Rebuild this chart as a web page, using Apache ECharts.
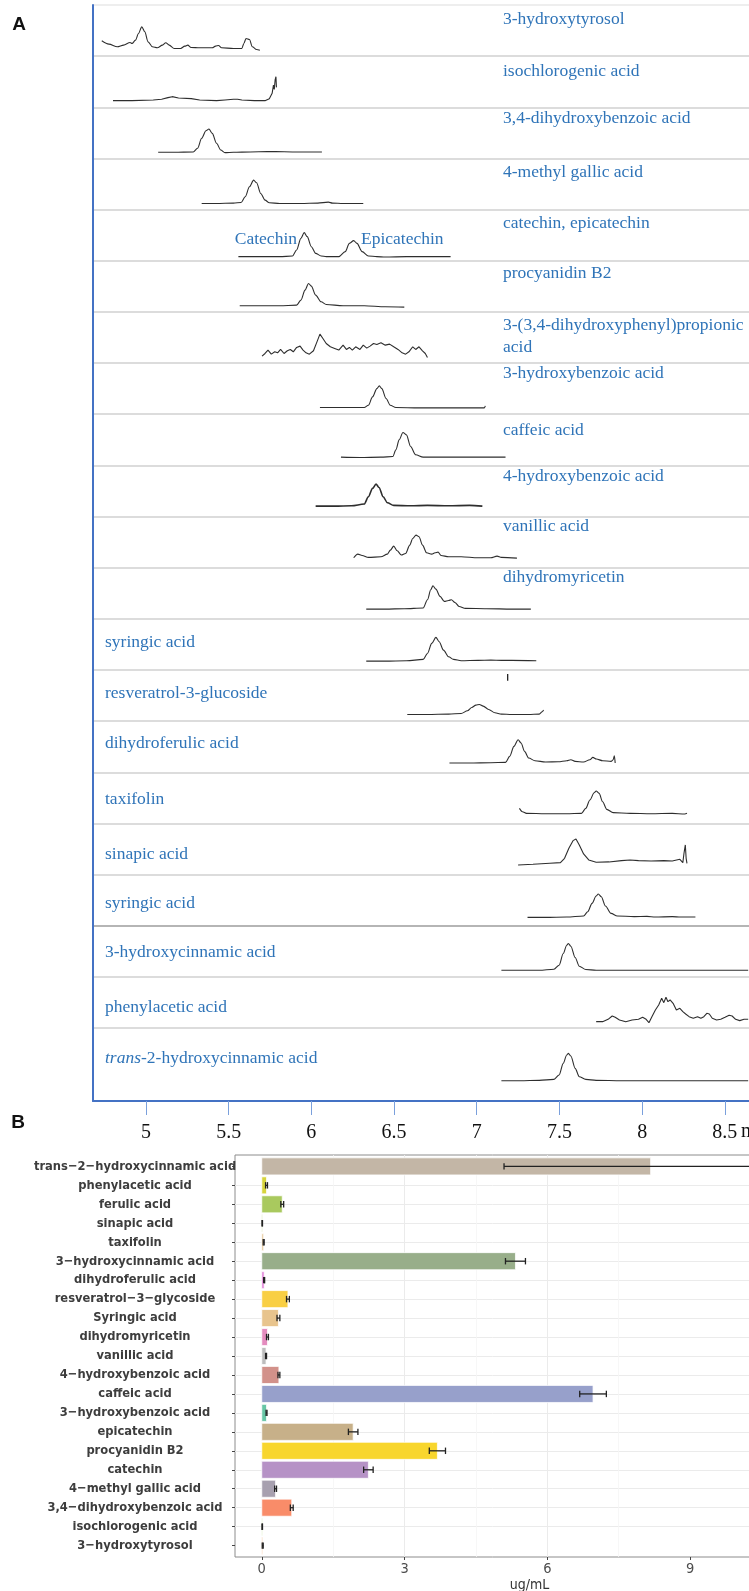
<!DOCTYPE html>
<html><head><meta charset="utf-8">
<script src="https://cdn.jsdelivr.net/npm/echarts@6/dist/echarts.min.js"></script>
<style>html,body{margin:0;padding:0;background:#fff}#c{width:749px;height:1591px}</style>
</head><body><div id="c"></div>
<script>
// ---------------- Panel A data (retention time in min, relative intensity in row units) ----------------
const rowLabelsA = ['3-hydroxytyrosol','isochlorogenic acid','3,4-dihydroxybenzoic acid','4-methyl gallic acid','catechin, epicatechin','procyanidin B2','3-(3,4-dihydroxyphenyl)propionic\nacid','3-hydroxybenzoic acid','caffeic acid','4-hydroxybenzoic acid','vanillic acid','dihydromyricetin','syringic acid','resveratrol-3-glucoside','dihydroferulic acid','taxifolin','sinapic acid','syringic acid','3-hydroxycinnamic acid','phenylacetic acid','{i|trans}-2-hydroxycinnamic acid'];
const timeTicksA = [5,5.5,6,6.5,7,7.5,8,8.5];
const baseA = [0.85,0.87,0.88,0.88,0.92,0.88,0.78,0.87,0.84,0.79,0.80,0.81,0.82,0.87,0.82,0.81,0.76,0.83,0.87,0.83,1.03];

const trace01 = [[4.733,0.15],[4.776,0.085],[4.827,0.033],[4.865,0.065],[4.904,0.117],[4.916,0.098],[4.937,0.163],[4.955,0.293],[4.975,0.423],[4.993,0.326],[5.013,0.13],[5.039,0.033],[5.069,0.013],[5.100,0.065],[5.120,0.111],[5.141,0.065],[5.171,0],[5.210,0],[5.235,0.046],[5.253,0.065],[5.273,0.02],[5.325,0.013],[5.401,0.013],[5.421,0.046],[5.439,0.059],[5.457,0.013],[5.529,0],[5.580,0],[5.592,0.098],[5.605,0.195],[5.626,0.176],[5.643,0.033],[5.669,-0.02],[5.689,-0.033]];
const trace02 = [[4.801,0],[4.916,0],[5.044,0.013],[5.095,0.026],[5.133,0.059],[5.159,0.078],[5.197,0.052],[5.274,0.039],[5.325,0.013],[5.427,0],[5.478,0.013],[5.529,0.026],[5.554,0.026],[5.580,0.013],[5.656,0],[5.720,0],[5.746,0.039],[5.763,0.143],[5.771,0.306],[5.776,0.221],[5.781,0.404],[5.786,0.469],[5.789,0.26]];
const trace03 = [[5.074,0],[5.171,0],[5.286,0.007],[5.312,0.078],[5.337,0.274],[5.363,0.423],[5.381,0.456],[5.401,0.371],[5.427,0.176],[5.452,0.046],[5.478,-0.007],[5.529,0],[5.631,0.007],[5.733,0.013],[5.784,0.013],[5.886,0.007],[5.988,0.007],[6.064,0.007]];
const trace04 = [[5.337,0],[5.427,0],[5.529,0.007],[5.575,0.02],[5.600,0.13],[5.626,0.326],[5.651,0.456],[5.669,0.404],[5.694,0.195],[5.720,0.065],[5.746,0.013],[5.809,0],[5.937,0],[6.039,0.007],[6.103,0.026],[6.128,0.007],[6.192,0],[6.314,0]];
const trace05 = [[5.559,0],[5.682,0],[5.809,0],[5.886,0.013],[5.911,0.13],[5.937,0.358],[5.957,0.469],[5.975,0.391],[6.000,0.195],[6.026,0.065],[6.059,0.013],[6.090,0],[6.166,0],[6.205,0.098],[6.230,0.26],[6.256,0.313],[6.276,0.26],[6.307,0.098],[6.345,0.013],[6.396,0],[6.447,-0.007],[6.575,0],[6.702,0],[6.842,0]];
const trace06 = [[5.567,0],[5.682,0],[5.809,0],[5.911,0.013],[5.937,0.111],[5.962,0.306],[5.983,0.436],[6.000,0.384],[6.026,0.208],[6.059,0.078],[6.090,0.026],[6.192,0],[6.320,0],[6.447,-0.02],[6.562,-0.026]];
const trace07 = [[5.702,-0.085],[5.720,-0.033],[5.738,0.033],[5.758,-0.046],[5.779,0],[5.796,-0.02],[5.814,0.046],[5.835,-0.033],[5.855,0.02],[5.873,0.046],[5.891,0],[5.911,0.085],[5.932,0.111],[5.950,0.033],[5.968,-0.02],[5.988,-0.046],[6.013,0.02],[6.034,0.195],[6.052,0.345],[6.070,0.26],[6.090,0.163],[6.115,0.098],[6.141,0.065],[6.166,0.033],[6.192,0.13],[6.212,0.046],[6.230,0.085],[6.248,0.033],[6.268,0.098],[6.294,0.046],[6.314,0.13],[6.335,0.072],[6.355,0.111],[6.376,0.163],[6.396,0.143],[6.421,0.176],[6.447,0.13],[6.473,0.15],[6.498,0.098],[6.524,0.046],[6.549,-0.02],[6.570,-0.046],[6.590,0],[6.613,0.098],[6.631,0.046],[6.651,0.098],[6.672,0.02],[6.689,-0.033],[6.702,-0.111]];
const trace08 = [[6.052,0],[6.192,0],[6.320,0],[6.345,0.046],[6.370,0.208],[6.396,0.371],[6.411,0.423],[6.426,0.371],[6.452,0.176],[6.477,0.046],[6.511,0],[6.651,-0.007],[6.830,-0.007],[7.046,-0.007],[7.052,0.033]];
const trace09 = [[6.179,0],[6.294,-0.007],[6.421,0],[6.493,0.013],[6.511,0.143],[6.531,0.339],[6.554,0.482],[6.575,0.436],[6.600,0.208],[6.631,0.046],[6.676,0],[6.830,0],[7.008,0],[7.174,0]];
const trace10 = [[6.026,-0.007],[6.141,-0.007],[6.243,0],[6.320,0.033],[6.345,0.176],[6.370,0.339],[6.391,0.423],[6.409,0.358],[6.434,0.176],[6.460,0.059],[6.498,0.007],[6.600,0],[6.702,0.007],[6.830,0],[6.957,0.007],[7.034,-0.007]];
const trace11 = [[6.256,-0.007],[6.281,0.065],[6.307,0.039],[6.345,0],[6.421,0.013],[6.460,0.065],[6.478,0.143],[6.498,0.221],[6.519,0.13],[6.544,0.046],[6.570,0.078],[6.595,0.241],[6.613,0.371],[6.633,0.436],[6.651,0.404],[6.672,0.241],[6.697,0.091],[6.728,0.065],[6.748,0.091],[6.766,0.104],[6.784,0.039],[6.830,0.013],[6.906,0.013],[7.008,-0.007],[7.085,-0.007],[7.123,0.026],[7.149,0],[7.243,-0.013]];
const trace12 = [[6.332,0],[6.447,0],[6.562,0.007],[6.676,0.02],[6.702,0.182],[6.722,0.378],[6.735,0.456],[6.753,0.391],[6.778,0.248],[6.804,0.15],[6.830,0.169],[6.847,0.182],[6.868,0.13],[6.893,0.052],[6.932,0.013],[7.059,0.007],[7.212,0],[7.327,0]];
const trace13 = [[6.332,-0.007],[6.447,-0.007],[6.575,0],[6.676,0.026],[6.702,0.143],[6.728,0.339],[6.753,0.456],[6.773,0.371],[6.799,0.208],[6.830,0.078],[6.860,0.026],[6.906,0],[7.008,0.007],[7.085,0.013],[7.149,0.007],[7.212,0.007],[7.360,0]];
const trace14 = [[6.580,0],[6.702,0],[6.830,0.007],[6.906,0.02],[6.944,0.072],[6.970,0.137],[6.995,0.182],[7.016,0.195],[7.039,0.163],[7.072,0.098],[7.110,0.033],[7.149,0.007],[7.212,0],[7.314,0],[7.378,0.007],[7.396,0.052],[7.404,0.085]];
const trace15 = [[6.835,0],[6.957,0],[7.085,0.007],[7.174,0.013],[7.199,0.13],[7.225,0.326],[7.250,0.456],[7.268,0.391],[7.289,0.228],[7.314,0.098],[7.352,0.046],[7.416,0.02],[7.493,0.026],[7.544,0.046],[7.569,0.065],[7.595,0.033],[7.646,0.02],[7.684,0.065],[7.702,0.111],[7.723,0.078],[7.761,0.046],[7.812,0.033],[7.825,0.065],[7.832,0.143],[7.837,0]];
const trace16 = [[7.258,0.104],[7.276,0.039],[7.301,0.007],[7.416,0],[7.544,0],[7.633,0.007],[7.659,0.104],[7.684,0.267],[7.710,0.41],[7.722,0.443],[7.740,0.397],[7.761,0.234],[7.786,0.085],[7.825,0.02],[7.927,0.007],[8.054,0],[8.182,0.007],[8.258,-0.007],[8.271,0.007]];
const trace17 = [[7.250,-0.052],[7.340,-0.039],[7.442,-0.02],[7.506,-0.007],[7.531,0.078],[7.557,0.274],[7.582,0.423],[7.600,0.456],[7.620,0.339],[7.646,0.163],[7.677,0.046],[7.722,0],[7.799,0.007],[7.875,0.033],[7.927,0.046],[7.978,0.033],[8.054,0.026],[8.131,0.033],[8.182,0.026],[8.228,0.059],[8.246,-0.007],[8.253,0.176],[8.261,0.339],[8.266,0.078],[8.271,-0.02]];
const trace18 = [[7.307,-0.007],[7.416,-0.007],[7.544,0],[7.646,0.02],[7.671,0.104],[7.697,0.267],[7.722,0.41],[7.735,0.449],[7.753,0.397],[7.778,0.215],[7.812,0.072],[7.850,0.02],[7.952,0.007],[8.029,0.013],[8.080,0],[8.182,0.007],[8.233,0],[8.322,0]];
const trace19 = [[7.149,0],[7.263,0],[7.378,0],[7.467,0.02],[7.498,0.098],[7.523,0.326],[7.544,0.489],[7.554,0.521],[7.569,0.469],[7.595,0.248],[7.620,0.078],[7.659,0.013],[7.722,0],[7.875,0],[7.978,0],[8.156,0],[8.386,0],[8.641,0]];
const trace20 = [[7.722,-0.046],[7.761,-0.046],[7.794,0],[7.819,0.065],[7.837,0.039],[7.863,-0.013],[7.901,-0.046],[7.939,-0.013],[7.978,0],[8.003,0.039],[8.024,0],[8.041,-0.065],[8.059,0.052],[8.080,0.182],[8.100,0.28],[8.118,0.41],[8.131,0.326],[8.144,0.43],[8.156,0.345],[8.169,0.378],[8.187,0.313],[8.207,0.182],[8.228,0.215],[8.246,0.15],[8.263,0.104],[8.284,0.052],[8.309,0.02],[8.335,0.052],[8.355,0.02],[8.373,0.052],[8.391,0.117],[8.406,0.104],[8.424,0.02],[8.450,-0.013],[8.475,0],[8.501,0.039],[8.526,0.078],[8.544,0.065],[8.565,0],[8.590,-0.026],[8.616,0],[8.641,0]];
const trace21 = [[7.149,0],[7.263,0],[7.378,0.007],[7.467,0.026],[7.498,0.111],[7.523,0.339],[7.544,0.502],[7.554,0.534],[7.569,0.482],[7.595,0.241],[7.620,0.078],[7.659,0.026],[7.722,0.007],[7.875,0],[8.156,0],[8.386,0],[8.641,0]];
const artifactRow13 = [[7.187,0.79],[7.187,0.66]];

// ---------------- Panel B data (ug/mL) ----------------
const compoundsB = ['trans−2−hydroxycinnamic acid','phenylacetic acid','ferulic acid','sinapic acid','taxifolin','3−hydroxycinnamic acid','dihydroferulic acid','resveratrol−3−glycoside','Syringic acid','dihydromyricetin','vanillic acid','4−hydroxybenzoic acid','caffeic acid','3−hydroxybenzoic acid','epicatechin','procyanidin B2','catechin','4−methyl gallic acid','3,4−dihydroxybenzoic acid','isochlorogenic acid','3−hydroxytyrosol'];
const concB = [8.17,0.10,0.43,0.01,0.04,5.33,0.05,0.55,0.35,0.12,0.09,0.36,6.96,0.10,1.92,3.69,2.24,0.29,0.63,0.01,0.02];
const sdB = [3.08,0.02,0.03,0.005,0.01,0.21,0.01,0.03,0.03,0.02,0.01,0.02,0.28,0.01,0.10,0.17,0.10,0.02,0.03,0.005,0.01];
const ticksB = [0,3,6,9];

// ---------------- styles ----------------
const paletteB = ['#c3b6a6','#d7d43c','#a9c95e','#b9d77c','#e6c99b','#98ae8a','#e07fd6','#f9cf43','#e8c48d','#e48bbe','#bdbdbd','#d2918a','#97a0cb','#67c6a5','#c7b089','#f8d62d','#b692c6','#a7a0af','#f98c69','#bfe08c','#f5b98b'];
const serif = "'Liberation Serif','Times New Roman',serif";
const narrow = "'Liberation Sans Narrow','Arial Narrow','DejaVu Sans Condensed',sans-serif";
const blueText = '#2f74b8';
const blueLine = '#4472c4';

const tracesA = [trace01,trace02,trace03,trace04,trace05,trace06,trace07,trace08,trace09,trace10,trace11,trace12,trace13,trace14,trace15,trace16,trace17,trace18,trace19,trace20,trace21];
const jagged = {1:true,6:true,16:true,19:true};

const sepColors = [];
for (let i = 0; i < 24; i++) {
  sepColors.push(i === 0 ? '#eeeeee' : (i === 18 ? '#b5b5b5' : (i >= 21 ? 'rgba(0,0,0,0)' : '#dcdcdc')));
}

const series = [];
tracesA.forEach((tr, k) => {
  series.push({
    type: 'line', xAxisIndex: 0, yAxisIndex: 0, silent: true,
    data: tr.map(p => [p[0], k + baseA[k] - p[1]]),
    showSymbol: false, symbol: 'none',
    smooth: jagged[k] ? false : 0.3, smoothMonotone: 'x',
    lineStyle: { color: '#2e2e2e', width: k === 9 ? 1.6 : 1.1 },
    z: 3
  });
});
series.push({
  type: 'line', xAxisIndex: 0, yAxisIndex: 0, silent: true, symbol: 'none',
  data: artifactRow13.map(p => [p[0], 13 + baseA[13] - p[1]]),
  lineStyle: { color: '#222', width: 1.3 }
});

// Panel B bars
series.push({
  type: 'custom', xAxisIndex: 1, yAxisIndex: 1, silent: true,
  data: concB.map((v, i) => [v, i]),
  renderItem: function (params, api) {
    const v = api.value(0), i = api.value(1);
    const a = api.coord([0, i - 0.45]);
    const b = api.coord([v, i + 0.45]);
    return {
      type: 'rect',
      shape: { x: a[0], y: Math.min(a[1], b[1]), width: Math.max(b[0] - a[0], 0.8), height: Math.abs(b[1] - a[1]) },
      style: { fill: paletteB[i], stroke: 'rgba(255,255,255,0.75)', lineWidth: 1 }
    };
  },
  z: 3
});
// Panel B error bars
series.push({
  type: 'custom', xAxisIndex: 1, yAxisIndex: 1, silent: true,
  data: concB.map((v, i) => [v, i, sdB[i]]),
  renderItem: function (params, api) {
    const v = api.value(0), i = api.value(1), e = api.value(2);
    const l = api.coord([v - e, i]);
    const r = api.coord([v + e, i]);
    const t = api.coord([v, i - 0.17]);
    const bt = api.coord([v, i + 0.17]);
    const st = { stroke: '#222222', lineWidth: 1.3 };
    return {
      type: 'group',
      children: [
        { type: 'line', shape: { x1: l[0], y1: l[1], x2: r[0], y2: r[1] }, style: st },
        { type: 'line', shape: { x1: l[0], y1: t[1], x2: l[0], y2: bt[1] }, style: st },
        { type: 'line', shape: { x1: r[0], y1: t[1], x2: r[0], y2: bt[1] }, style: st }
      ]
    };
  },
  z: 4
});

// Panel A text labels
const rightY = [19, 71, 118, 172, 223, 273, 336, 373, 430, 476, 526, 577];
const leftY = [642, 693, 743, 799, 854, 903, 952, 1007, 1058];
const graphics = [];
rowLabelsA.forEach((name, k) => {
  const isRight = k < 12;
  graphics.push({
    type: 'text', silent: true, z: 10,
    style: {
      text: name, x: isRight ? 503 : 105, y: isRight ? rightY[k] : leftY[k - 12],
      fill: blueText, fontFamily: serif, fontSize: 17.5, lineHeight: 22,
      align: 'left', verticalAlign: 'middle',
      rich: { i: { fontStyle: 'italic', fontFamily: serif, fontSize: 17.5, fill: blueText } }
    }
  });
});
graphics.push({ type: 'text', silent: true, style: { text: 'Catechin', x: 297, y: 239, fill: blueText, fontFamily: serif, fontSize: 17.5, align: 'right', verticalAlign: 'middle' } });
graphics.push({ type: 'text', silent: true, style: { text: 'Epicatechin', x: 361, y: 239, fill: blueText, fontFamily: serif, fontSize: 17.5, align: 'left', verticalAlign: 'middle' } });
graphics.push({ type: 'text', silent: true, style: { text: 'min', x: 741, y: 1132, fill: '#111', fontFamily: serif, fontSize: 20, align: 'left', verticalAlign: 'middle' } });
graphics.push({ type: 'text', silent: true, style: { text: 'A', x: 19, y: 25, fill: '#111', fontFamily: "'Liberation Sans',Arial,sans-serif", fontWeight: 'bold', fontSize: 19, align: 'center', verticalAlign: 'middle' } });
graphics.push({ type: 'text', silent: true, style: { text: 'B', x: 18, y: 1123, fill: '#111', fontFamily: "'Liberation Sans',Arial,sans-serif", fontWeight: 'bold', fontSize: 19, align: 'center', verticalAlign: 'middle' } });

const option = {
  animation: false,
  backgroundColor: '#ffffff',
  grid: [
    { left: 93, top: 5, width: 656, height: 1096, outerBoundsMode: 'none', containLabel: false },
    { left: 235, top: 1155, width: 589, height: 402, outerBoundsMode: 'none', containLabel: false,
      show: true, backgroundColor: '#ffffff', borderColor: '#8c8c8c', borderWidth: 1 }
  ],
  xAxis: [
    { type: 'value', gridIndex: 0, min: 4.68, max: 8.646, minInterval: 0.5, maxInterval: 0.5, splitNumber: 8,
      axisLine: { show: true, onZero: false, lineStyle: { color: blueLine, width: 2 } },
      axisTick: { show: true, length: 14, customValues: timeTicksA, lineStyle: { color: '#7aa0dc', width: 1 } },
      axisLabel: { show: true, customValues: timeTicksA, margin: 22, color: '#111', fontFamily: serif, fontSize: 20,
        formatter: v => String(v) },
      splitLine: { show: false }
    },
    { type: 'value', gridIndex: 1, min: -0.5625, max: 11.8125, minInterval: 3, maxInterval: 3, splitNumber: 4,
      axisLine: { show: false, onZero: false },
      axisTick: { show: true, length: 3, customValues: ticksB, lineStyle: { color: '#444', width: 1 } },
      axisLabel: { show: true, customValues: ticksB, margin: 5, color: '#4d4d4d', fontFamily: narrow, fontSize: 14.5,
        formatter: v => String(v) },
      splitLine: { show: true, showMinLine: false, showMaxLine: false, lineStyle: { color: '#ebebeb', width: 1 } },
      minorTick: { show: false, splitNumber: 2 },
      minorSplitLine: { show: true, lineStyle: { color: '#f5f5f5', width: 0.8 } },
      name: 'ug/mL', nameLocation: 'middle', nameGap: 20,
      nameTextStyle: { color: '#333', fontFamily: narrow, fontSize: 14 }
    }
  ],
  yAxis: [
    { type: 'value', gridIndex: 0, min: 0, max: 21.427, interval: 1, inverse: true,
      axisLine: { show: true, onZero: false, lineStyle: { color: blueLine, width: 2 } },
      axisTick: { show: false }, axisLabel: { show: false },
      splitLine: { show: true, lineStyle: { color: sepColors, width: 2 } }
    },
    { type: 'value', gridIndex: 1, min: -0.6, max: 20.6, minInterval: 1, maxInterval: 1, splitNumber: 21, inverse: true,
      axisLine: { show: false, onZero: false },
      axisTick: { show: true, length: 3, customValues: compoundsB.map((n, i) => i), lineStyle: { color: '#444', width: 1 } },
      axisLabel: { show: true, customValues: compoundsB.map((n, i) => i), margin: 100, align: 'center',
        color: '#3d3d3d', fontFamily: narrow, fontWeight: 'bold', fontSize: 12.8,
        formatter: v => (Number.isInteger(v) && compoundsB[v]) ? compoundsB[v] : '' },
      splitLine: { show: true, showMinLine: false, showMaxLine: false, lineStyle: { color: '#ebebeb', width: 1 } }
    }
  ],
  graphic: graphics,
  series: series
};

const chart = echarts.init(document.getElementById('c'), null, { renderer: 'canvas', width: 749, height: 1591 });
chart.setOption(option);
</script></body></html>
